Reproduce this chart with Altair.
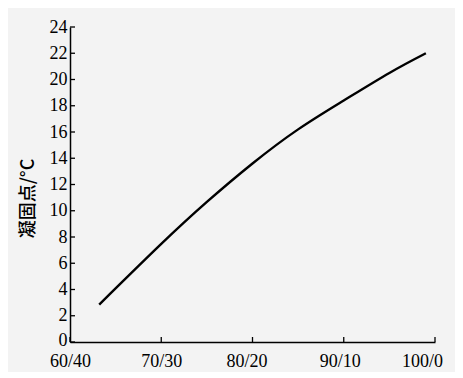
import altair as alt
import pandas as pd

# Data
ratio = [63.2, 70.0, 75.0, 80.0, 85.0, 90.0, 95.0, 99.0]
freeze = [2.85, 7.47, 10.67, 13.6, 16.2, 18.4, 20.5, 22.0]
x_ticks = [60, 70, 80, 90, 100]
x_labels = ["60/40", "70/30", "80/20", "90/10", "100/0"]
y_ticks = list(range(0, 25, 2))

df = pd.DataFrame({"x": ratio, "y": freeze})
xt = pd.DataFrame({"x": x_ticks, "lab": x_labels})
yt = pd.DataFrame({"y": y_ticks})

W, H = 365, 315
SERIF = "'Liberation Serif', 'Times New Roman', serif"
label_expr = "{" + ",".join(f"'{v}':'{l}'" for v, l in zip(x_ticks, x_labels)) + "}[datum.value]"

xscale = alt.Scale(domain=[60, 100], nice=False, zero=False)
yscale = alt.Scale(domain=[0, 24], nice=False)

common = dict(labelFont=SERIF, labelFontSize=18, labelColor="black",
              domainColor="black", domainWidth=1.5, grid=False,
              labelOverlap=False, labelFlush=False, ticks=False)

xaxis = alt.Axis(values=x_ticks, labelExpr=label_expr, title=None,
                 labelPadding=10,
                 labelOffset={"expr": "datum.value == 80 ? -6 : datum.value == 90 ? -4 : datum.value == 100 ? -13 : 0"},
                 **common)
yaxis = alt.Axis(values=y_ticks, title="凝固点/°C",
                 titleFont="Noto Sans CJK SC", titleFontSize=18, titleFontWeight=500,
                 titleColor="black", titleAngle=-90, titleX=-42, titleY=171,
                 titleAlign="center", titleBaseline="middle",
                 labelOffset={"expr": "datum.value == 0 ? -2 : 0"},
                 labelPadding=3, labelBaseline="middle", **common)

line = alt.Chart(df).mark_line(color="black", strokeWidth=2.4, interpolate="natural").encode(
    x=alt.X("x:Q", scale=xscale, axis=xaxis),
    y=alt.Y("y:Q", scale=yscale, axis=yaxis),
)

ytick_marks = alt.Chart(yt).mark_rule(color="black", strokeWidth=1.3).encode(
    y=alt.Y("y:Q", scale=yscale, axis=yaxis),
    x=alt.value(0), x2=alt.value(5),
)
xtick_marks = alt.Chart(xt).mark_rule(color="black", strokeWidth=1.3).encode(
    x=alt.X("x:Q", scale=xscale, axis=xaxis),
    y=alt.value(H), y2=alt.value(H - 5),
)

chart = alt.layer(line, ytick_marks, xtick_marks).properties(
    width=W, height=H,
    autosize=alt.AutoSizeParams(type="none"),
    padding={"left": 62, "top": 19, "right": 20, "bottom": 30},
    background="#f3f3f3",
).configure_view(stroke=None)

chart.save("out.html", embed_options={"renderer": "svg", "actions": False})
